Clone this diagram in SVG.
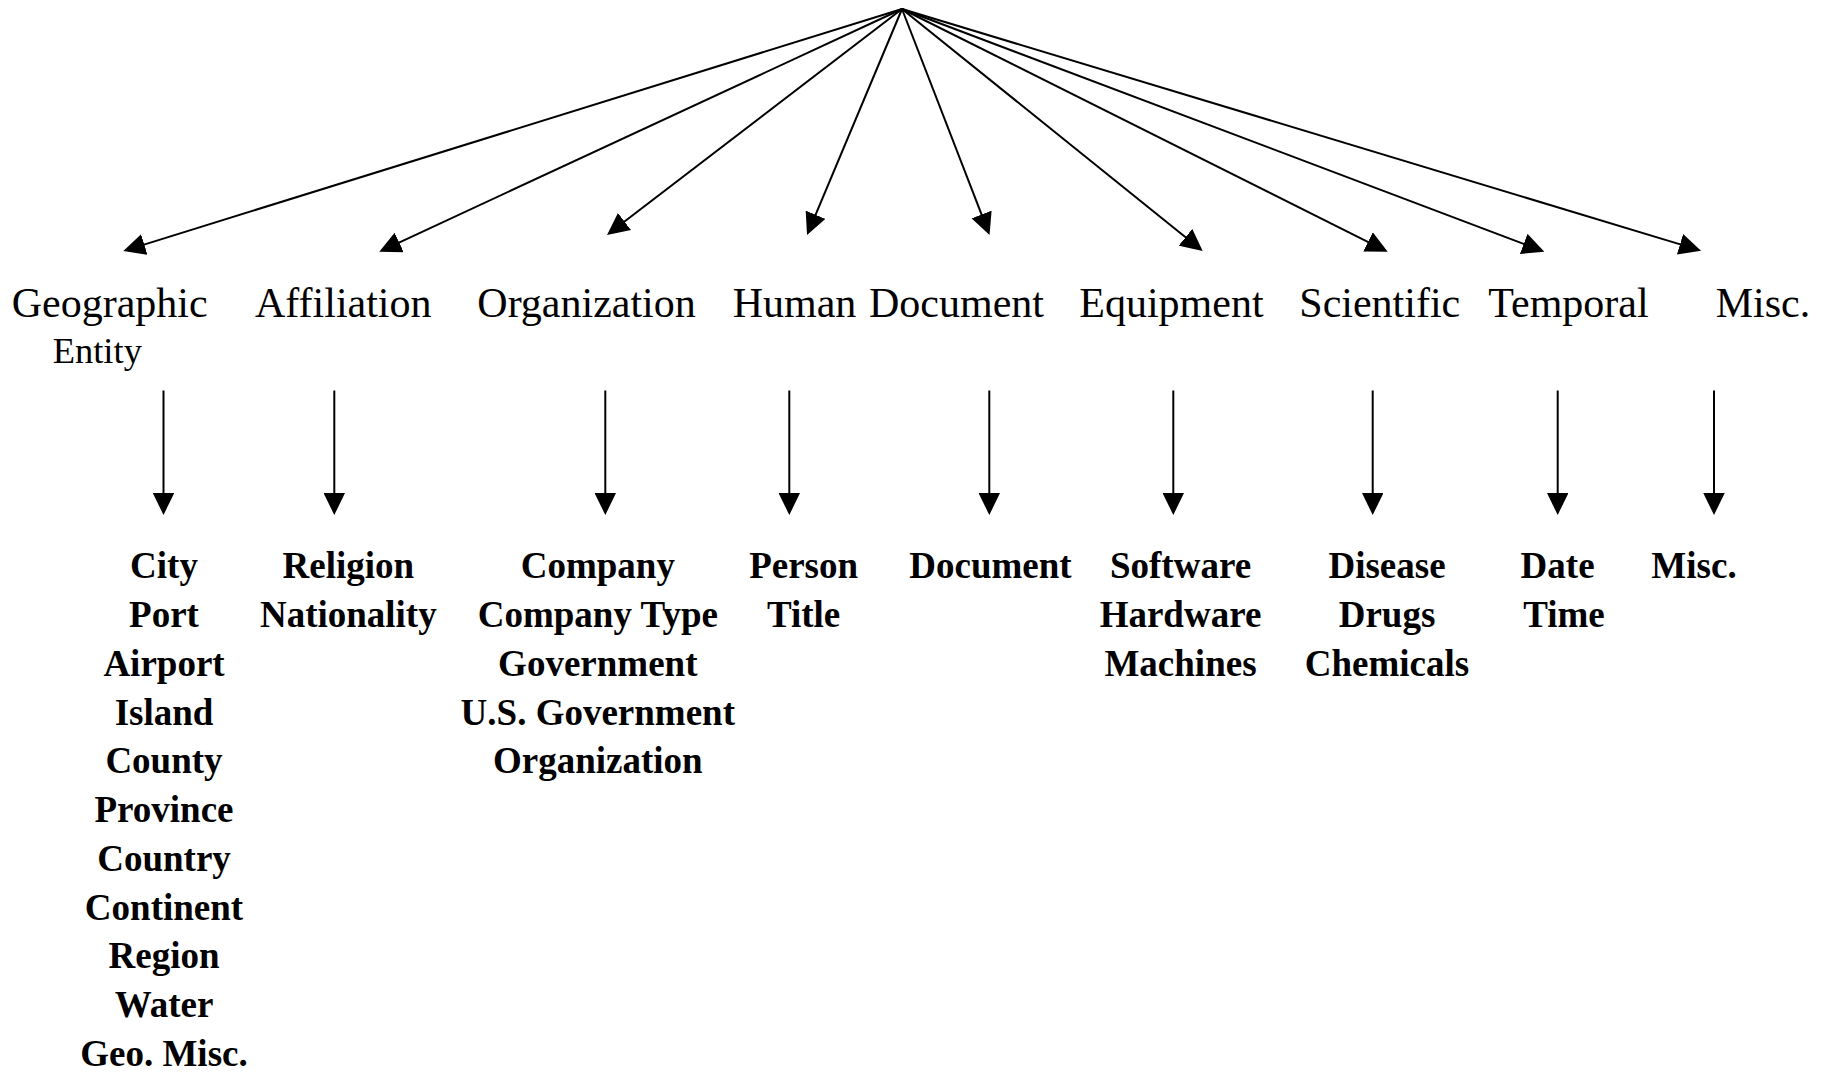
<svg xmlns="http://www.w3.org/2000/svg" width="1823" height="1072" viewBox="0 0 1823 1072">
<style>
.bg{fill:#fff}
.cat{font-family:"Liberation Serif","Times New Roman",serif;font-size:42px;fill:#000}
.sub{font-family:"Liberation Serif","Times New Roman",serif;font-size:37px;font-weight:bold;fill:#000;text-anchor:middle}
.edge{stroke:#000;stroke-width:2;fill:none}
</style>
<defs>
<marker id="ah" markerUnits="userSpaceOnUse" viewBox="0 0 22 21.5" refX="2" refY="10.75" markerWidth="22" markerHeight="21.5" orient="auto">
<path d="M0,0 L22,10.75 L0,21.5 z" fill="#000"/>
</marker>
</defs>
<rect class="bg" x="0" y="0" width="1823" height="1072"/>
<g id="connectors">
<line class="edge" x1="902" y1="9" x2="142.4" y2="245.1" marker-end="url(#ah)"/>
<line class="edge" x1="902" y1="9" x2="397.4" y2="243.3" marker-end="url(#ah)"/>
<line class="edge" x1="902" y1="9" x2="622.9" y2="222.8" marker-end="url(#ah)"/>
<line class="edge" x1="902" y1="9" x2="814.8" y2="216.6" marker-end="url(#ah)"/>
<line class="edge" x1="902" y1="9" x2="982.3" y2="216.4" marker-end="url(#ah)"/>
<line class="edge" x1="902" y1="9" x2="1187.1" y2="238.5" marker-end="url(#ah)"/>
<line class="edge" x1="902" y1="9" x2="1369.8" y2="242.8" marker-end="url(#ah)"/>
<line class="edge" x1="902" y1="9" x2="1525.6" y2="244.6" marker-end="url(#ah)"/>
<line class="edge" x1="902" y1="9" x2="1681.9" y2="244.9" marker-end="url(#ah)"/>
<line class="edge" x1="163.5" y1="390.5" x2="163.5" y2="495" marker-end="url(#ah)"/>
<line class="edge" x1="334.3" y1="390.5" x2="334.3" y2="495" marker-end="url(#ah)"/>
<line class="edge" x1="605.3" y1="390.5" x2="605.3" y2="495" marker-end="url(#ah)"/>
<line class="edge" x1="789.3" y1="390.5" x2="789.3" y2="495" marker-end="url(#ah)"/>
<line class="edge" x1="989.3" y1="390.5" x2="989.3" y2="495" marker-end="url(#ah)"/>
<line class="edge" x1="1173.3" y1="390.5" x2="1173.3" y2="495" marker-end="url(#ah)"/>
<line class="edge" x1="1372.7" y1="390.5" x2="1372.7" y2="495" marker-end="url(#ah)"/>
<line class="edge" x1="1557.7" y1="390.5" x2="1557.7" y2="495" marker-end="url(#ah)"/>
<line class="edge" x1="1714" y1="390.5" x2="1714" y2="495" marker-end="url(#ah)"/>
</g>
<g id="node-geographic">
<text class="cat" x="11.7" y="316.7">Geographic</text>
<text class="cat" x="52.7" y="362.7" style="font-size:36.5px">Entity</text>
</g>
<g id="node-affiliation"><text class="cat" x="255" y="316.7">Affiliation</text></g>
<g id="node-organization"><text class="cat" x="477.3" y="316.7">Organization</text></g>
<g id="node-human"><text class="cat" x="732.7" y="316.7">Human</text></g>
<g id="node-document"><text class="cat" x="869" y="316.7">Document</text></g>
<g id="node-equipment"><text class="cat" x="1079.3" y="316.7">Equipment</text></g>
<g id="node-scientific"><text class="cat" x="1299.3" y="316.7">Scientific</text></g>
<g id="node-temporal"><text class="cat" x="1488.3" y="316.7">Temporal</text></g>
<g id="node-misc"><text class="cat" x="1715.7" y="316.7">Misc.</text></g>
<g id="node-geo-list">
<text class="sub" x="164" y="578.3">City</text>
<text class="sub" x="164" y="627">Port</text>
<text class="sub" x="164" y="675.8">Airport</text>
<text class="sub" x="164" y="724.5">Island</text>
<text class="sub" x="164" y="773.3">County</text>
<text class="sub" x="164" y="822">Province</text>
<text class="sub" x="164" y="870.8">Country</text>
<text class="sub" x="164" y="919.5">Continent</text>
<text class="sub" x="164" y="968.3">Region</text>
<text class="sub" x="164" y="1017">Water</text>
<text class="sub" x="164" y="1065.8">Geo. Misc.</text>
</g>
<g id="node-affiliation-list">
<text class="sub" x="348.3" y="578.3">Religion</text>
<text class="sub" x="348.3" y="627">Nationality</text>
</g>
<g id="node-organization-list">
<text class="sub" x="597.8" y="578.3">Company</text>
<text class="sub" x="597.8" y="627">Company Type</text>
<text class="sub" x="597.8" y="675.8">Government</text>
<text class="sub" x="597.8" y="724.5">U.S. Government</text>
<text class="sub" x="597.8" y="773.3">Organization</text>
</g>
<g id="node-human-list">
<text class="sub" x="803.6" y="578.3">Person</text>
<text class="sub" x="803.6" y="627">Title</text>
</g>
<g id="node-document-list">
<text class="sub" x="990.5" y="578.3">Document</text>
</g>
<g id="node-equipment-list">
<text class="sub" x="1180.5" y="578.3">Software</text>
<text class="sub" x="1180.5" y="627">Hardware</text>
<text class="sub" x="1180.5" y="675.8">Machines</text>
</g>
<g id="node-scientific-list">
<text class="sub" x="1387" y="578.3">Disease</text>
<text class="sub" x="1387" y="627">Drugs</text>
<text class="sub" x="1387" y="675.8">Chemicals</text>
</g>
<g id="node-temporal-list">
<text class="sub" x="1557.6" y="578.3">Date</text>
<text class="sub" x="1564" y="627">Time</text>
</g>
<g id="node-misc-list">
<text class="sub" x="1694" y="578.3">Misc.</text>
</g>
</svg>
